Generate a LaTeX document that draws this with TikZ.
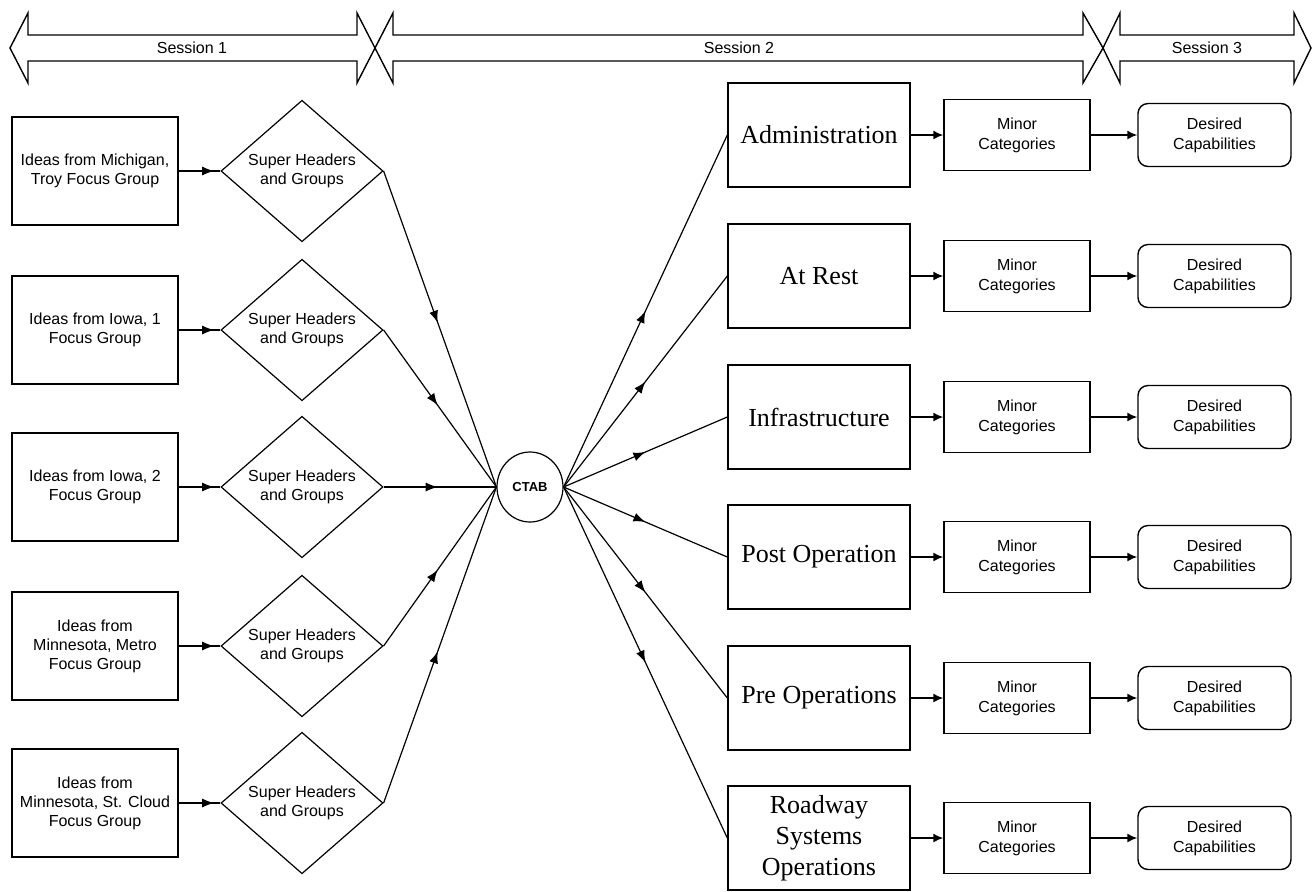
\documentclass[tikz,border=0pt]{standalone}
\usepackage{fontspec}
\setmainfont{Liberation Serif}
\setsansfont{Liberation Sans}
\usetikzlibrary{arrows.meta, shapes.geometric, positioning, decorations.markings}

\begin{document}
\begin{tikzpicture}[x=0.5pt, y=-0.5pt,
  idea/.style={rectangle, draw=black, line width=0.7pt, minimum width=83pt,
               minimum height=54pt, inner sep=1pt, align=center,
               font=\sffamily\fontsize{8}{9.5}\selectfont},
  header/.style={diamond, draw=black, line width=0.6pt, minimum width=81pt,
                 minimum height=54pt, inner sep=0pt, align=center,
                 font=\sffamily\fontsize{8}{9.5}\selectfont},
  hub/.style={ellipse, draw=black, line width=0.6pt, minimum width=33pt,
              minimum height=35pt, inner sep=0pt,
              font=\sffamily\bfseries\fontsize{6.5}{8}\selectfont},
  area/.style={rectangle, draw=black, line width=0.7pt, minimum width=91pt,
               minimum height=52pt, inner sep=1pt, align=center,
               font=\fontsize{13}{15.5}\selectfont},
  minor/.style={rectangle, draw=black, line width=0.7pt, minimum width=73pt,
                minimum height=35.5pt, align=center,
                font=\sffamily\fontsize{8}{10}\selectfont},
  wish/.style={rectangle, rounded corners=5pt, draw=black, line width=0.7pt,
               minimum width=76.5pt, minimum height=31.5pt, align=center,
               font=\sffamily\fontsize{8}{10}\selectfont},
  flow/.style={-{Latex[length=5pt,width=4.5pt]}, line width=0.8pt},
  link/.style={line width=0.6pt, postaction={decorate},
               decoration={markings, mark=at position #1 with
                 {\arrow{Latex[length=6pt,width=4.5pt]}}}},
  link/.default=0.5,
  band/.style={draw=black, line width=0.7pt, fill=white},
  lbl/.style={font=\sffamily\fontsize{8}{9.5}\selectfont}
]
\useasboundingbox (0,0) rectangle (1314,891);

\def\xI{95}
\def\xS{302}
\def\xC{530}
\def\xA{819}
\def\xM{1017}
\def\xD{1214.5}

% session bands
\draw[band] (10,48) -- (28,13) -- (28,35) -- (357,35) -- (357,13) -- (375,48)
  -- (357,83) -- (357,61) -- (28,61) -- (28,83) -- cycle;
\draw[band] (375,48) -- (393,13) -- (393,35) -- (1083,35) -- (1083,13) -- (1103,48)
  -- (1083,83) -- (1083,61) -- (393,61) -- (393,83) -- cycle;
\draw[band] (1103,48) -- (1120,13) -- (1120,35) -- (1294,35) -- (1294,13) -- (1311,48)
  -- (1294,83) -- (1294,61) -- (1120,61) -- (1120,83) -- cycle;
\node[lbl] (s1) at (192,48) {Session 1};
\node[lbl] (s2) at (739,48) {Session 2};
\node[lbl] (s3) at (1207,48) {Session 3};

% focus groups
\node[idea] (i1) at (\xI,171) {Ideas from Michigan,\\Troy Focus Group};
\node[idea] (i2) at (\xI,330) {Ideas from Iowa, 1\\Focus Group};
\node[idea] (i3) at (\xI,487) {Ideas from Iowa, 2\\Focus Group};
\node[idea] (i4) at (\xI,646) {Ideas from\\Minnesota, Metro\\Focus Group};
\node[idea] (i5) at (\xI,803) {Ideas from\\Minnesota, St. Cloud\\Focus Group};

\node[header] (h1) at (\xS,171) {Super Headers\\and Groups};
\node[header] (h2) at (\xS,330) {Super Headers\\and Groups};
\node[header] (h3) at (\xS,487) {Super Headers\\and Groups};
\node[header] (h4) at (\xS,646) {Super Headers\\and Groups};
\node[header] (h5) at (\xS,803) {Super Headers\\and Groups};

\node[hub] (hub) at (\xC,487) {CTAB};

% capability areas
\node[area] (a1) at (\xA,135) {Administration};
\node[area] (a2) at (\xA,276) {At Rest};
\node[area] (a3) at (\xA,417) {Infrastructure};
\node[area] (a4) at (\xA,557) {Post Operation};
\node[area] (a5) at (\xA,698) {Pre Operations};
\node[area] (a6) at (\xA,838) {Roadway\\Systems\\Operations};

\node[minor] (m1) at (\xM,135) {Minor\\Categories};
\node[minor] (m2) at (\xM,276) {Minor\\Categories};
\node[minor] (m3) at (\xM,417) {Minor\\Categories};
\node[minor] (m4) at (\xM,557) {Minor\\Categories};
\node[minor] (m5) at (\xM,698) {Minor\\Categories};
\node[minor] (m6) at (\xM,838) {Minor\\Categories};

\node[wish] (d1) at (\xD,135) {Desired\\Capabilities};
\node[wish] (d2) at (\xD,276) {Desired\\Capabilities};
\node[wish] (d3) at (\xD,417) {Desired\\Capabilities};
\node[wish] (d4) at (\xD,557) {Desired\\Capabilities};
\node[wish] (d5) at (\xD,698) {Desired\\Capabilities};
\node[wish] (d6) at (\xD,838) {Desired\\Capabilities};

% left side
\draw[link=0.85] (i1.east) -- (h1.west);
\draw[link=0.85] (i2.east) -- (h2.west);
\draw[link=0.85] (i3.east) -- (h3.west);
\draw[link=0.85] (i4.east) -- (h4.west);
\draw[link=0.85] (i5.east) -- (h5.west);

\draw[link=0.48] (h1.east) -- (hub.west);
\draw[link=0.48] (h2.east) -- (hub.west);
\draw[link=0.48] (h3.east) -- (hub.west);
\draw[link=0.48] (h4.east) -- (hub.west);
\draw[link=0.48] (h5.east) -- (hub.west);

% right side
\draw[link=0.5] (hub.east) -- (a1.west);
\draw[link=0.5] (hub.east) -- (a2.west);
\draw[link=0.5] (hub.east) -- (a3.west);
\draw[link=0.5] (hub.east) -- (a4.west);
\draw[link=0.5] (hub.east) -- (a5.west);
\draw[link=0.5] (hub.east) -- (a6.west);

\draw[flow] (a1) -- (m1);
\draw[flow] (a2) -- (m2);
\draw[flow] (a3) -- (m3);
\draw[flow] (a4) -- (m4);
\draw[flow] (a5) -- (m5);
\draw[flow] (a6) -- (m6);

\draw[flow] (m1) -- (d1);
\draw[flow] (m2) -- (d2);
\draw[flow] (m3) -- (d3);
\draw[flow] (m4) -- (d4);
\draw[flow] (m5) -- (d5);
\draw[flow] (m6) -- (d6);
\end{tikzpicture}
\end{document}
